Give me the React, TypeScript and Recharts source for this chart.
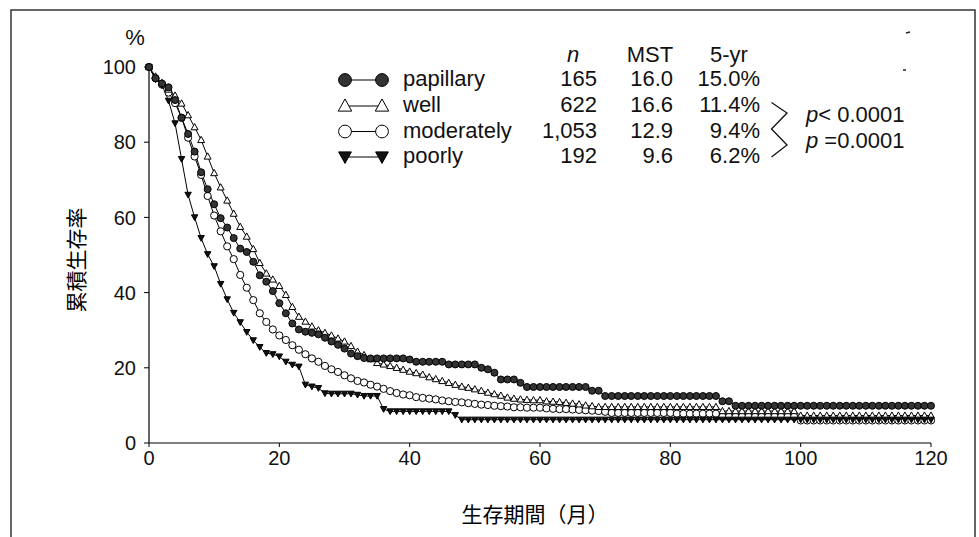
import React from "react";
import { LineChart, Line, XAxis, YAxis } from "recharts";

const months = [
  0, 1, 2, 3, 4, 5, 6, 7, 8, 9, 10, 11, 12, 13, 14, 15, 16, 17, 18, 19, 20,
  21, 22, 23, 24, 25, 26, 27, 28, 29, 30, 31, 32, 33, 34, 35, 36, 37, 38, 39, 40,
  41, 42, 43, 44, 45, 46, 47, 48, 49, 50, 51, 52, 53, 54, 55, 56, 57, 58, 59, 60,
  61, 62, 63, 64, 65, 66, 67, 68, 69, 70, 71, 72, 73, 74, 75, 76, 77, 78, 79, 80,
  81, 82, 83, 84, 85, 86, 87, 88, 89, 90, 91, 92, 93, 94, 95, 96, 97, 98, 99, 100,
  101, 102, 103, 104, 105, 106, 107, 108, 109, 110, 111, 112, 113, 114, 115, 116, 117, 118, 119, 120,
];

const papillary = [
  100, 97.0, 95.6, 94.6, 91.2, 86.5, 82.2, 77.5, 72.0, 67.5, 63.5,
  59.8, 57.3, 54.5, 51.7, 50.8, 48.2, 44.6, 42.9, 40.4, 37.2,
  34.5, 31.8, 30.2, 29.6, 29.3, 28.9, 28.0, 27.0, 26.1, 25.1,
  23.8, 23.1, 22.6, 22.5, 22.5, 22.5, 22.5, 22.5, 22.5, 22.2,
  21.6, 21.6, 21.6, 21.6, 21.6, 20.9, 20.9, 20.9, 20.9, 20.9,
  20.0, 19.6, 18.7, 16.9, 16.9, 16.9, 16.0, 14.9, 14.9, 14.9,
  14.9, 14.9, 14.9, 14.9, 14.9, 14.9, 14.9, 13.9, 13.9, 12.5,
  12.5, 12.5, 12.5, 12.5, 12.5, 12.5, 12.5, 12.5, 12.5, 12.5,
  12.5, 12.5, 12.5, 12.5, 12.5, 12.5, 12.5, 11.1, 11.1, 9.9,
  9.9, 9.9, 9.9, 9.9, 9.9, 9.9, 9.9, 9.9, 9.9, 9.9,
  9.9, 9.9, 9.9, 9.9, 9.9, 9.9, 9.9, 9.9, 9.9, 9.9,
  9.9, 9.9, 9.9, 9.9, 9.9, 9.9, 9.9, 9.9, 9.9, 9.9,
];

const well = [
  100, 97.5, 95.8, 94.0, 92.4, 90.3, 87.2, 84.0, 80.6, 76.2, 71.8,
  68.0, 64.5, 61.0, 57.5, 54.9, 51.6, 47.9, 45.1, 43.5, 41.8,
  39.4, 36.2, 33.6, 32.3, 31.0, 30.0, 29.3, 28.6, 27.8, 27.0,
  25.8, 24.3, 23.4, 22.3, 21.3, 20.9, 20.5, 20.0, 19.5, 19.0,
  18.6, 18.2, 17.5, 17.0, 16.5, 16.0, 15.5, 15.0, 14.7, 14.3,
  13.9, 13.4, 13.0, 12.6, 12.1, 11.8, 11.6, 11.5, 11.4, 11.4,
  11.1, 11.0, 10.9, 10.7, 10.5, 10.3, 10.0, 9.8, 9.6, 9.6,
  9.6, 9.6, 9.6, 9.6, 9.6, 9.6, 9.6, 9.6, 9.6, 9.6,
  9.6, 9.6, 9.6, 9.6, 9.6, 9.6, 9.6, 8.5, 8.5, 8.5,
  8.5, 8.5, 8.5, 8.5, 8.5, 8.5, 8.5, 8.5, 8.5, 7.3,
  7.3, 7.3, 7.3, 7.3, 7.3, 7.3, 7.3, 7.3, 7.3, 7.3,
  7.3, 7.3, 7.3, 7.3, 7.3, 7.3, 7.3, 7.3, 7.3, 7.3,
];

const moderately = [
  100, 97.0, 95.3, 93.2, 90.4, 86.5, 81.2, 76.2, 71.3, 65.7, 60.5,
  56.3, 52.3, 48.9, 44.7, 41.3, 38.0, 34.5, 32.2, 30.2, 28.6,
  27.4, 26.0, 24.8, 23.6, 22.5, 21.6, 20.5, 19.6, 18.9, 18.0,
  17.2, 16.5, 16.1, 15.5, 15.0, 14.4, 13.8, 13.3, 12.9, 12.7,
  12.2, 12.0, 11.8, 11.6, 11.3, 11.1, 10.9, 10.8, 10.6, 10.4,
  10.2, 10.1, 9.9, 9.8, 9.7, 9.5, 9.5, 9.4, 9.4, 9.4,
  9.2, 9.1, 9.0, 9.0, 8.9, 8.8, 8.7, 8.6, 8.5, 8.3,
  8.0, 8.0, 8.0, 8.0, 8.0, 8.0, 8.0, 8.0, 8.0, 8.0,
  7.8, 7.8, 7.8, 7.8, 7.8, 7.8, 7.8, 7.0, 7.0, 7.0,
  7.0, 7.0, 7.0, 7.0, 7.0, 7.0, 7.0, 7.0, 7.0, 6.0,
  6.0, 6.0, 6.0, 6.0, 6.0, 6.0, 6.0, 6.0, 6.0, 6.0,
  6.0, 6.0, 6.0, 6.0, 6.0, 6.0, 6.0, 6.0, 6.0, 6.0,
];

const poorly = [
  100, 96.7, 95.2, 91.0, 85.0, 75.5, 66.0, 60.0, 54.5, 50.2, 47.0,
  42.3, 38.2, 34.6, 32.1, 29.5, 27.3, 25.5, 23.9, 23.6, 23.0,
  21.6, 20.8, 20.3, 15.5, 15.0, 14.6, 13.2, 13.1, 13.1, 13.1,
  13.1, 12.8, 12.5, 12.5, 12.5, 9.0, 8.4, 8.4, 8.4, 8.4,
  8.4, 8.4, 8.4, 8.4, 8.4, 8.4, 7.4, 6.2, 6.2, 6.2,
  6.2, 6.2, 6.2, 6.2, 6.2, 6.2, 6.2, 6.2, 6.2, 6.2,
  6.2, 6.2, 6.2, 6.2, 6.2, 6.2, 6.2, 6.2, 6.2, 6.2,
  6.2, 6.2, 6.2, 6.2, 6.2, 6.2, 6.2, 6.2, 6.2, 6.2,
  6.2, 6.2, 6.2, 6.2, 6.2, 6.2, 6.2, 6.2, 6.2, 6.2,
  6.2, 6.2, 6.2, 6.2, 6.2, 6.2, 6.2, 6.2, 6.2, 6.2,
  6.2, 6.2, 6.2, 6.2, 6.2, 6.2, 6.2, 6.2, 6.2, 6.2,
  6.2, 6.2, 6.2, 6.2, 6.2, 6.2, 6.2, 6.2, 6.2, 6.2,
];

const xTicks = [0, 20, 40, 60, 80, 100, 120];
const yTicks = [0, 20, 40, 60, 80, 100];

const legendRows = [
  { name: "papillary", n: "165", mst: "16.0", yr5: "15.0%", marker: "filledCircle" },
  { name: "well", n: "622", mst: "16.6", yr5: "11.4%", marker: "openTriangle" },
  { name: "moderately", n: "1,053", mst: "12.9", yr5: "9.4%", marker: "openCircle" },
  { name: "poorly", n: "192", mst: "9.6", yr5: "6.2%", marker: "filledDown" },
];

const pValues = ["< 0.0001", " =0.0001"];

const data = months.map((m, i) => ({
  month: m,
  papillary: papillary[i],
  well: well[i],
  moderately: moderately[i],
  poorly: poorly[i],
}));

const FONT = "'Liberation Sans', Arial, 'Noto Sans CJK JP', sans-serif";
const CJK = "'Noto Sans CJK JP', 'Noto Sans CJK SC', sans-serif";

function Marker({ kind, cx, cy, s }: { kind: string; cx: number; cy: number; s: number }) {
  if (kind === "filledCircle")
    return <circle cx={cx} cy={cy} r={s} fill="#333" stroke="#000" strokeWidth={1} />;
  if (kind === "openCircle")
    return <circle cx={cx} cy={cy} r={s} fill="#fff" stroke="#000" strokeWidth={1} />;
  if (kind === "openTriangle")
    return (
      <polygon
        points={`${cx},${cy - s * 1.1} ${cx - s * 1.05},${cy + s * 0.8} ${cx + s * 1.05},${cy + s * 0.8}`}
        fill="#fff"
        stroke="#000"
        strokeWidth={1}
      />
    );
  return (
    <polygon
      points={`${cx - s},${cy - s * 0.8} ${cx + s},${cy - s * 0.8} ${cx},${cy + s * 1.0}`}
      fill="#111"
      stroke="#000"
      strokeWidth={1}
    />
  );
}

const makeDot = (kind: string, s: number) => (props: any) => {
  const { cx, cy, index } = props;
  if (cx == null || cy == null) return <g key={`d-${kind}-${index}`} />;
  return (
    <g key={`d-${kind}-${index}`}>
      <Marker kind={kind} cx={cx} cy={cy} s={s} />
    </g>
  );
};

export default function App() {
  const rowY = [86, 112, 137.5, 163];
  return (
    <div style={{ position: "absolute", left: 0, top: 0, width: 979, height: 537, background: "#fff" }}>
      <LineChart
        width={979}
        height={537}
        data={data}
        margin={{ top: 67, right: 48, left: 89, bottom: 64 }}
      >
        <XAxis
          dataKey="month"
          type="number"
          domain={[0, 120]}
          ticks={xTicks}
          tickSize={4}
          tickMargin={4}
          height={30}
          axisLine={{ stroke: "#000", strokeWidth: 1.2 }}
          tickLine={{ stroke: "#000" }}
          tick={{ fontSize: 20, fill: "#111", fontFamily: FONT }}
        />
        <YAxis
          type="number"
          domain={[0, 100]}
          ticks={yTicks}
          width={60}
          tickSize={5}
          tickMargin={8}
          axisLine={{ stroke: "#000", strokeWidth: 1.2 }}
          tickLine={{ stroke: "#000" }}
          tick={{ fontSize: 20, fill: "#111", fontFamily: FONT }}
        />
        <Line
          dataKey="moderately"
          type="linear"
          stroke="#000"
          strokeWidth={1}
          dot={makeDot("openCircle", 3.6)}
          isAnimationActive={false}
        />
        <Line
          dataKey="well"
          type="linear"
          stroke="#000"
          strokeWidth={1}
          dot={makeDot("openTriangle", 3.3)}
          isAnimationActive={false}
        />
        <Line
          dataKey="poorly"
          type="linear"
          stroke="#000"
          strokeWidth={1}
          dot={makeDot("filledDown", 3.2)}
          isAnimationActive={false}
        />
        <Line
          dataKey="papillary"
          type="linear"
          stroke="#000"
          strokeWidth={1}
          dot={makeDot("filledCircle", 3.5)}
          isAnimationActive={false}
        />
      </LineChart>
      <svg
        width={979}
        height={537}
        style={{ position: "absolute", left: 0, top: 0, pointerEvents: "none" }}
      >
        <polyline points="11,537 11,10 975,10 975,537" fill="none" stroke="#333" strokeWidth={1.5} />
        <line x1={906} y1={33} x2={910} y2={32} stroke="#222" strokeWidth={1.5} />
        <line x1={903} y1={70} x2={906} y2={70} stroke="#222" strokeWidth={1.5} />
        <text x={135} y={45} textAnchor="middle" fontSize={22} fontFamily={FONT} fill="#111">
          %
        </text>
        <text
          x={75}
          y={260}
          transform="rotate(-90 75 260)"
          textAnchor="middle"
          dominantBaseline="central"
          fontSize={21}
          fontFamily={CJK}
          fill="#000"
        >
          累積生存率
        </text>
        <text x={535} y={522} textAnchor="middle" fontSize={21} fontFamily={CJK} fill="#000">
          生存期間（月）
        </text>
        <g fontFamily={FONT} fontSize={22} fill="#111">
          <text x={573} y={62} textAnchor="middle" fontStyle="italic">
            n
          </text>
          <text x={650} y={62} textAnchor="middle">
            MST
          </text>
          <text x={729} y={62} textAnchor="middle">
            5-yr
          </text>
          {legendRows.map((r, i) => (
            <g key={r.name}>
              <line x1={345} y1={rowY[i] - 6} x2={382} y2={rowY[i] - 6} stroke="#000" strokeWidth={1} />
              <Marker kind={r.marker} cx={345} cy={rowY[i] - 6} s={6.4} />
              <Marker kind={r.marker} cx={382} cy={rowY[i] - 6} s={6.4} />
              <text x={403} y={rowY[i]}>{r.name}</text>
              <text x={597} y={rowY[i]} textAnchor="end">
                {r.n}
              </text>
              <text x={673} y={rowY[i]} textAnchor="end">
                {r.mst}
              </text>
              <text x={760} y={rowY[i]} textAnchor="end">
                {r.yr5}
              </text>
            </g>
          ))}
          <polyline
            points="771.5,102.5 787,113 771.5,129 787,145 771.5,157"
            fill="none"
            stroke="#111"
            strokeWidth={1.3}
          />
          <text x={806} y={122}>
            <tspan fontStyle="italic">p</tspan>
            {pValues[0]}
          </text>
          <text x={806} y={148}>
            <tspan fontStyle="italic">p</tspan>
            {pValues[1]}
          </text>
        </g>
      </svg>
    </div>
  );
}
